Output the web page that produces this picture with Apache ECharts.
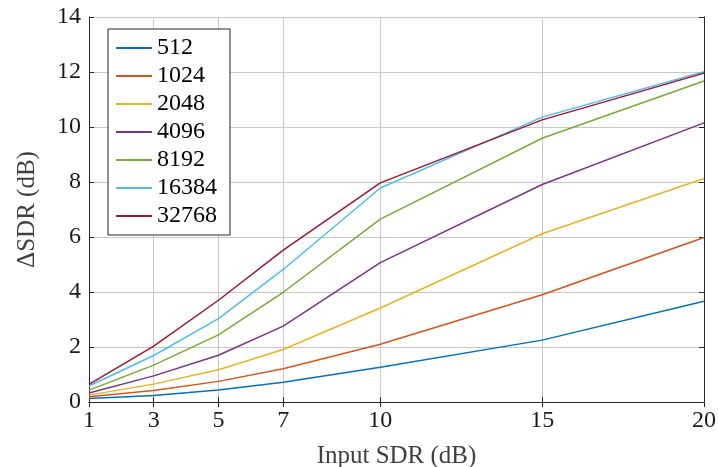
<!DOCTYPE html>
<html><head><meta charset="utf-8">
<script src="https://cdn.jsdelivr.net/npm/echarts@6/dist/echarts.min.js"></script>
<style>html,body{margin:0;padding:0;background:#fff}#c{width:718px;height:467px}</style>
</head><body><div id="c"></div>
<script>
const xValues = [1, 3, 5, 7, 10, 15, 20];
const xTicks = [1, 3, 5, 7, 10, 15, 20];
const yTicks = [0, 2, 4, 6, 8, 10, 12, 14];
const seriesNames = ['512', '1024', '2048', '4096', '8192', '16384', '32768'];
const s512   = [0.13, 0.24, 0.44, 0.72, 1.26, 2.25, 3.66];
const s1024  = [0.19, 0.42, 0.75, 1.21, 2.10, 3.90, 5.98];
const s2048  = [0.25, 0.65, 1.17, 1.91, 3.42, 6.12, 8.13];
const s4096  = [0.33, 0.95, 1.70, 2.76, 5.07, 7.91, 10.15];
const s8192  = [0.43, 1.34, 2.44, 3.99, 6.65, 9.59, 11.67];
const s16384 = [0.58, 1.69, 3.03, 4.82, 7.78, 10.36, 12.01];
const s32768 = [0.64, 2.03, 3.70, 5.52, 7.97, 10.26, 11.96];
const colors = ['#0072BD', '#D95319', '#EDB120', '#7E2F8E', '#77AC30', '#4DBEEE', '#A2142F'];
const allSeries = [s512, s1024, s2048, s4096, s8192, s16384, s32768];

const FONT = 'Liberation Serif';
const chart = echarts.init(document.getElementById('c'), null, {renderer: 'canvas'});
const axisCommon = {
  axisLine: {show: true, lineStyle: {color: '#262626', width: 1}},
  axisTick: {show: true, inside: true, length: 5, lineStyle: {color: '#262626'}},
};
// legend box geometry
const LG_LEFT = 108, LG_TOP = 29, LG_PADT = 7, LG_PADL = 8, LG_ICON = 36, LG_GAP = 5, LG_ROW = 28;
chart.setOption({
  animation: false,
  color: colors,
  textStyle: {fontFamily: FONT},
  grid: {left: 89, top: 17, right: 14, bottom: 65, containLabel: false, outerBoundsMode: 'none'},
  legend: {
    orient: 'vertical', left: LG_LEFT, top: LG_TOP,
    padding: [LG_PADT, 67, LG_PADT, LG_PADL],
    backgroundColor: '#fff', borderColor: '#262626', borderWidth: 1, borderRadius: 0,
    icon: 'rect',
    itemWidth: LG_ICON, itemHeight: 2, itemGap: 4,
    formatter: () => ' ',
    textStyle: {fontFamily: FONT, fontSize: 24, color: '#000', lineHeight: 24},
    data: seriesNames
  },
  graphic: seriesNames.map((n, i) => ({
    type: 'text', z: 100,
    left: LG_LEFT + LG_PADL + LG_ICON + LG_GAP,
    top: LG_TOP + LG_PADT + i * LG_ROW,
    style: {text: n, font: '24px "Liberation Serif"', fill: '#000', lineHeight: 24}
  })),
  xAxis: [{
    type: 'value', min: 1, max: 20, position: 'bottom',
    name: 'Input SDR (dB)', nameLocation: 'middle', nameGap: 42,
    nameTextStyle: {fontFamily: FONT, fontSize: 25, color: '#404040'},
    ...axisCommon,
    axisTick: {show: true, inside: true, length: 5, lineStyle: {color: '#262626'}, customValues: xTicks},
    axisLabel: {customValues: xTicks, fontFamily: FONT, fontSize: 24, color: '#1a1a1a', margin: 7},
    splitLine: {show: true, lineStyle: {color: '#c8c8c8', width: 1}}
  }, {
    type: 'value', min: 1, max: 20, position: 'top',
    ...axisCommon,
    axisTick: {show: true, inside: true, length: 5, lineStyle: {color: '#262626'}, customValues: xTicks},
    axisLabel: {show: false, customValues: xTicks},
    splitLine: {show: false}
  }],
  yAxis: [{
    type: 'value', min: 0, max: 14, interval: 2, position: 'left',
    name: 'ΔSDR (dB)', nameLocation: 'middle', nameGap: 49,
    nameTextStyle: {fontFamily: FONT, fontSize: 25, color: '#404040'},
    ...axisCommon,
    axisLabel: {fontFamily: FONT, fontSize: 24, color: '#1a1a1a', margin: 8},
    splitLine: {show: true, lineStyle: {color: '#c8c8c8', width: 1}}
  }, {
    type: 'value', min: 0, max: 14, interval: 2, position: 'right',
    ...axisCommon,
    axisLabel: {show: false},
    splitLine: {show: false}
  }],
  series: allSeries.map((vals, i) => ({
    name: seriesNames[i], type: 'line', symbol: 'none',
    lineStyle: {width: 1.5, color: colors[i]},
    itemStyle: {color: colors[i]},
    data: vals.map((v, j) => [xValues[j], v])
  }))
});
</script></body></html>
